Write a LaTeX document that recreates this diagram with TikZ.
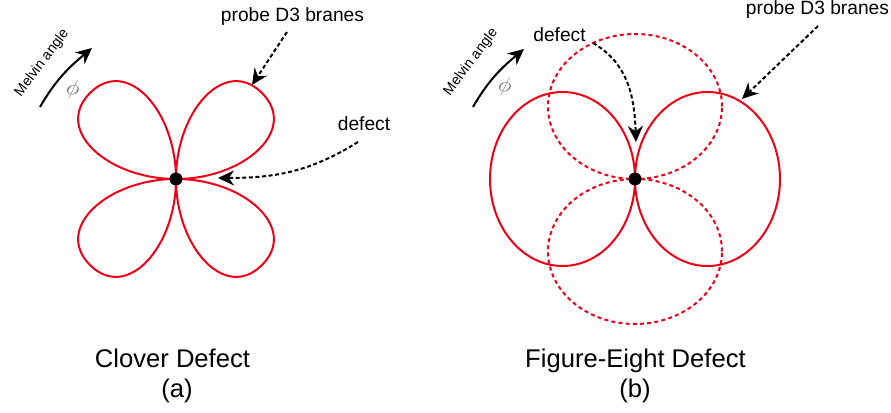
\documentclass[tikz,border=0pt]{standalone}
\usepackage{fontspec}
\setmainfont{Liberation Sans}
\usetikzlibrary{calc}
\usetikzlibrary{arrows.meta}

\definecolor{branered}{RGB}{238,0,22}

\tikzset{
    brane/.style={draw=branered, line width=1pt},
    ghost/.style={brane, dash pattern=on 2pt off 1.6pt},
    pointer/.style={draw=black, line width=1pt, dash pattern=on 2pt off 1.3pt,
        -{Stealth[length=8pt,width=7.5pt,inset=2.6pt]}},
    twist/.style={draw=black, line width=1pt,
        -{Stealth[length=8pt,width=7.5pt,inset=2.6pt]}},
    dot/.style={circle, fill=black, inner sep=0pt, minimum size=6.5pt},
    smalltext/.style={font=\fontsize{9.6}{11}\selectfont, inner sep=1pt},
    melvintext/.style={font=\fontsize{7.1}{8}\selectfont, rotate=53, inner sep=0pt},
    angletext/.style={text=black!55, rotate=-12, inner sep=0pt,
        font=\fontsize{10.5}{12}\selectfont},
    captext/.style={font=\fontsize{12.8}{15}\selectfont, anchor=base},
}

\begin{document}
\begin{tikzpicture}[x=0.5pt, y=0.5pt]
        \useasboundingbox (0,0) rectangle (891,413);

        %%%%%% 左图 %%%%%%%
        % 四叶草
        \coordinate (O1) at (176,234);
        \foreach \r in {0,90,180,270}
        {
            \draw [brane, shift={(O1)}, rotate=\r]
                (0,0) .. controls (68,0) and (123,49) .. (86,86)
                      .. controls (49,123) and (0,68) .. (0,0);
        }
        \node [dot] (D1) at (O1) {};

        % 标注
        \node [smalltext] (probeA) at (292.5,396) {probe D3 branes};
        \coordinate (probeAtail) at (287,381);
        \coordinate (probeAtip) at (252,328);
        \draw [pointer] (probeAtail) -- (probeAtip);

        \node [smalltext] (defectA) at (364,289) {defect};
        \coordinate (defectAtail) at (358,271);
        \coordinate (defectAtip) at (218,235);
        \draw [pointer] (defectAtail) to [out=212,in=0] (defectAtip);

        \node [melvintext] (melvinA) at (42,350) {Melvin angle};
        \coordinate (twistAtail) at (40,306);
        \coordinate (twistAtip) at (92,365);
        \draw [twist] (twistAtail) to [out=60,in=220] (twistAtip);
        \node [angletext] (phiA) at (73,323) {$\phi$};

        \node [captext] (titleA) at (172.5,45) {Clover Defect};
        \node [captext] (tagA) at (177,15) {(a)};

        %%%%%% 右图 %%%%%%%
        % 两个8字形
        \coordinate (O2) at (635,234);
        \draw [brane] ($(O2)+(-72.5,0)$) ellipse [x radius=72.5, y radius=87];
        \draw [brane] ($(O2)+(72.5,0)$) ellipse [x radius=72.5, y radius=87];
        \draw [ghost] ($(O2)+(0,72.5)$) ellipse [x radius=87, y radius=72.5];
        \draw [ghost] ($(O2)+(0,-72.5)$) ellipse [x radius=87, y radius=72.5];
        \node [dot] (D2) at (O2) {};

        % 标注
        \node [smalltext] (probeB) at (817.5,403) {probe D3 branes};
        \coordinate (probeBtail) at (818,387);
        \coordinate (probeBtip) at (742,314);
        \draw [pointer] (probeBtail) -- (probeBtip);

        \node [smalltext] (defectB) at (559.5,378) {defect};
        \coordinate (defectBtail) at (593,370);
        \coordinate (defectBtip) at (636,271);
        \draw [pointer] (defectBtail) to [out=-30,in=92] (defectBtip);

        \node [melvintext] (melvinB) at (471,351) {Melvin angle};
        \coordinate (twistBtail) at (473,306);
        \coordinate (twistBtip) at (524,364);
        \draw [twist] (twistBtail) to [out=60,in=220] (twistBtip);
        \node [angletext] (phiB) at (505,326) {$\phi$};

        \node [captext] (titleB) at (635.5,45) {Figure-Eight Defect};
        \node [captext] (tagB) at (635,15) {(b)};

\end{tikzpicture}
\end{document}
